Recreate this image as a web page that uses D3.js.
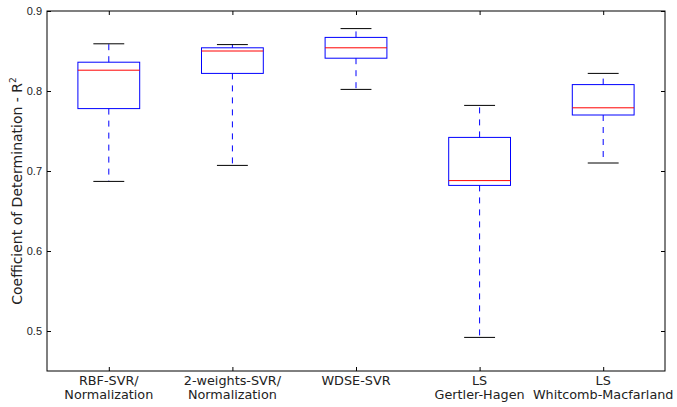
<!DOCTYPE html>
<html>
<head>
<meta charset="utf-8">
<script src="https://cdn.jsdelivr.net/npm/d3@7"></script>
<style>
  body { margin: 0; background: #fff; }
  svg { font-family: "DejaVu Sans", sans-serif; }
</style>
</head>
<body>
<svg id="chart" width="677" height="407"></svg>
<script>
// categories (two label lines each)
var labelsTop = ["RBF-SVR/", "2-weights-SVR/", "WDSE-SVR", "LS", "LS"];
var labelsBottom = ["Normalization", "Normalization", "", "Gertler-Hagen", "Whitcomb-Macfarland"];

// box statistics
var whiskerLow = [0.687, 0.707, 0.802, 0.492, 0.710];
var q1 = [0.778, 0.822, 0.841, 0.682, 0.770];
var median = [0.826, 0.850, 0.854, 0.688, 0.779];
var q3 = [0.836, 0.854, 0.867, 0.742, 0.808];
var whiskerHigh = [0.859, 0.858, 0.878, 0.782, 0.822];

var yTicks = [0.5, 0.6, 0.7, 0.8, 0.9];

var svg = d3.select("#chart");
var pLeft = 47, pRight = 665, pTop = 11, pBottom = 371;

var x = d3.scaleLinear().domain([0.5, 5.5]).range([pLeft, pRight]);
var y = d3.scaleLinear().domain([0.45, 0.9]).range([pBottom, pTop]);

var idx = d3.range(labelsTop.length);
var boxHalf = 0.25, capHalf = 0.125;

// whiskers (dashed), caps, boxes, medians
var g = svg.append("g");
idx.forEach(function(i) {
	var cx = x(i + 1);
	g.append("line")
		.attr("x1", cx).attr("x2", cx)
		.attr("y1", y(q3[i])).attr("y2", y(whiskerHigh[i]))
		.attr("stroke", "#0000ff").attr("stroke-dasharray", "6,6");
	g.append("line")
		.attr("x1", cx).attr("x2", cx)
		.attr("y1", y(q1[i])).attr("y2", y(whiskerLow[i]))
		.attr("stroke", "#0000ff").attr("stroke-dasharray", "6,6");
	[whiskerHigh[i], whiskerLow[i]].forEach(function(v) {
		g.append("line")
			.attr("x1", x(i + 1 - capHalf)).attr("x2", x(i + 1 + capHalf))
			.attr("y1", y(v)).attr("y2", y(v))
			.attr("stroke", "#000");
	});
	g.append("rect")
		.attr("x", x(i + 1 - boxHalf))
		.attr("y", y(q3[i]))
		.attr("width", x(i + 1 + boxHalf) - x(i + 1 - boxHalf))
		.attr("height", y(q1[i]) - y(q3[i]))
		.attr("fill", "none")
		.attr("stroke", "#0000ff");
	g.append("line")
		.attr("x1", x(i + 1 - boxHalf)).attr("x2", x(i + 1 + boxHalf))
		.attr("y1", y(median[i])).attr("y2", y(median[i]))
		.attr("stroke", "#ff0000");
});

// axes, ticks pointing inward
var yAxis = d3.axisLeft(y).tickValues(yTicks).tickSizeInner(-4).tickSizeOuter(0)
	.tickPadding(5).tickFormat(d3.format(".1f"));
svg.append("g").attr("transform", "translate(" + pLeft + ",0)").call(yAxis)
	.call(function(a) { a.select(".domain").remove(); })
	.selectAll("text").style("font-size", "11px").attr("fill", "#222");

var yAxisR = d3.axisRight(y).tickValues(yTicks).tickSizeInner(-4).tickSizeOuter(0).tickFormat("");
svg.append("g").attr("transform", "translate(" + pRight + ",0)").call(yAxisR)
	.call(function(a) { a.select(".domain").remove(); });

var xAxis = d3.axisBottom(x).tickValues(idx.map(function(i) { return i + 1; }))
	.tickSizeInner(-4).tickSizeOuter(0).tickFormat("");
svg.append("g").attr("transform", "translate(0," + pBottom + ")").call(xAxis)
	.call(function(a) { a.select(".domain").remove(); });

var xAxisT = d3.axisTop(x).tickValues(idx.map(function(i) { return i + 1; }))
	.tickSizeInner(-4).tickSizeOuter(0).tickFormat("");
svg.append("g").attr("transform", "translate(0," + pTop + ")").call(xAxisT)
	.call(function(a) { a.select(".domain").remove(); });

// frame
svg.append("rect")
	.attr("x", pLeft).attr("y", pTop)
	.attr("width", pRight - pLeft).attr("height", pBottom - pTop)
	.attr("fill", "none").attr("stroke", "#000");

// category labels
var lab = svg.append("g").style("font-size", "12.8px").attr("fill", "#222")
	.attr("text-anchor", "middle");
idx.forEach(function(i) {
	lab.append("text").attr("x", x(i + 1)).attr("y", 385).text(labelsTop[i]);
	lab.append("text").attr("x", x(i + 1)).attr("y", 399).text(labelsBottom[i]);
});

// y label
svg.append("text")
	.attr("transform", "translate(22,191) rotate(-90)")
	.attr("text-anchor", "middle")
	.style("font-size", "14px")
	.attr("fill", "#222")
	.html("Coefficient of Determination - R<tspan dy='-6' font-size='9px'>2</tspan>");
</script>
</body>
</html>
